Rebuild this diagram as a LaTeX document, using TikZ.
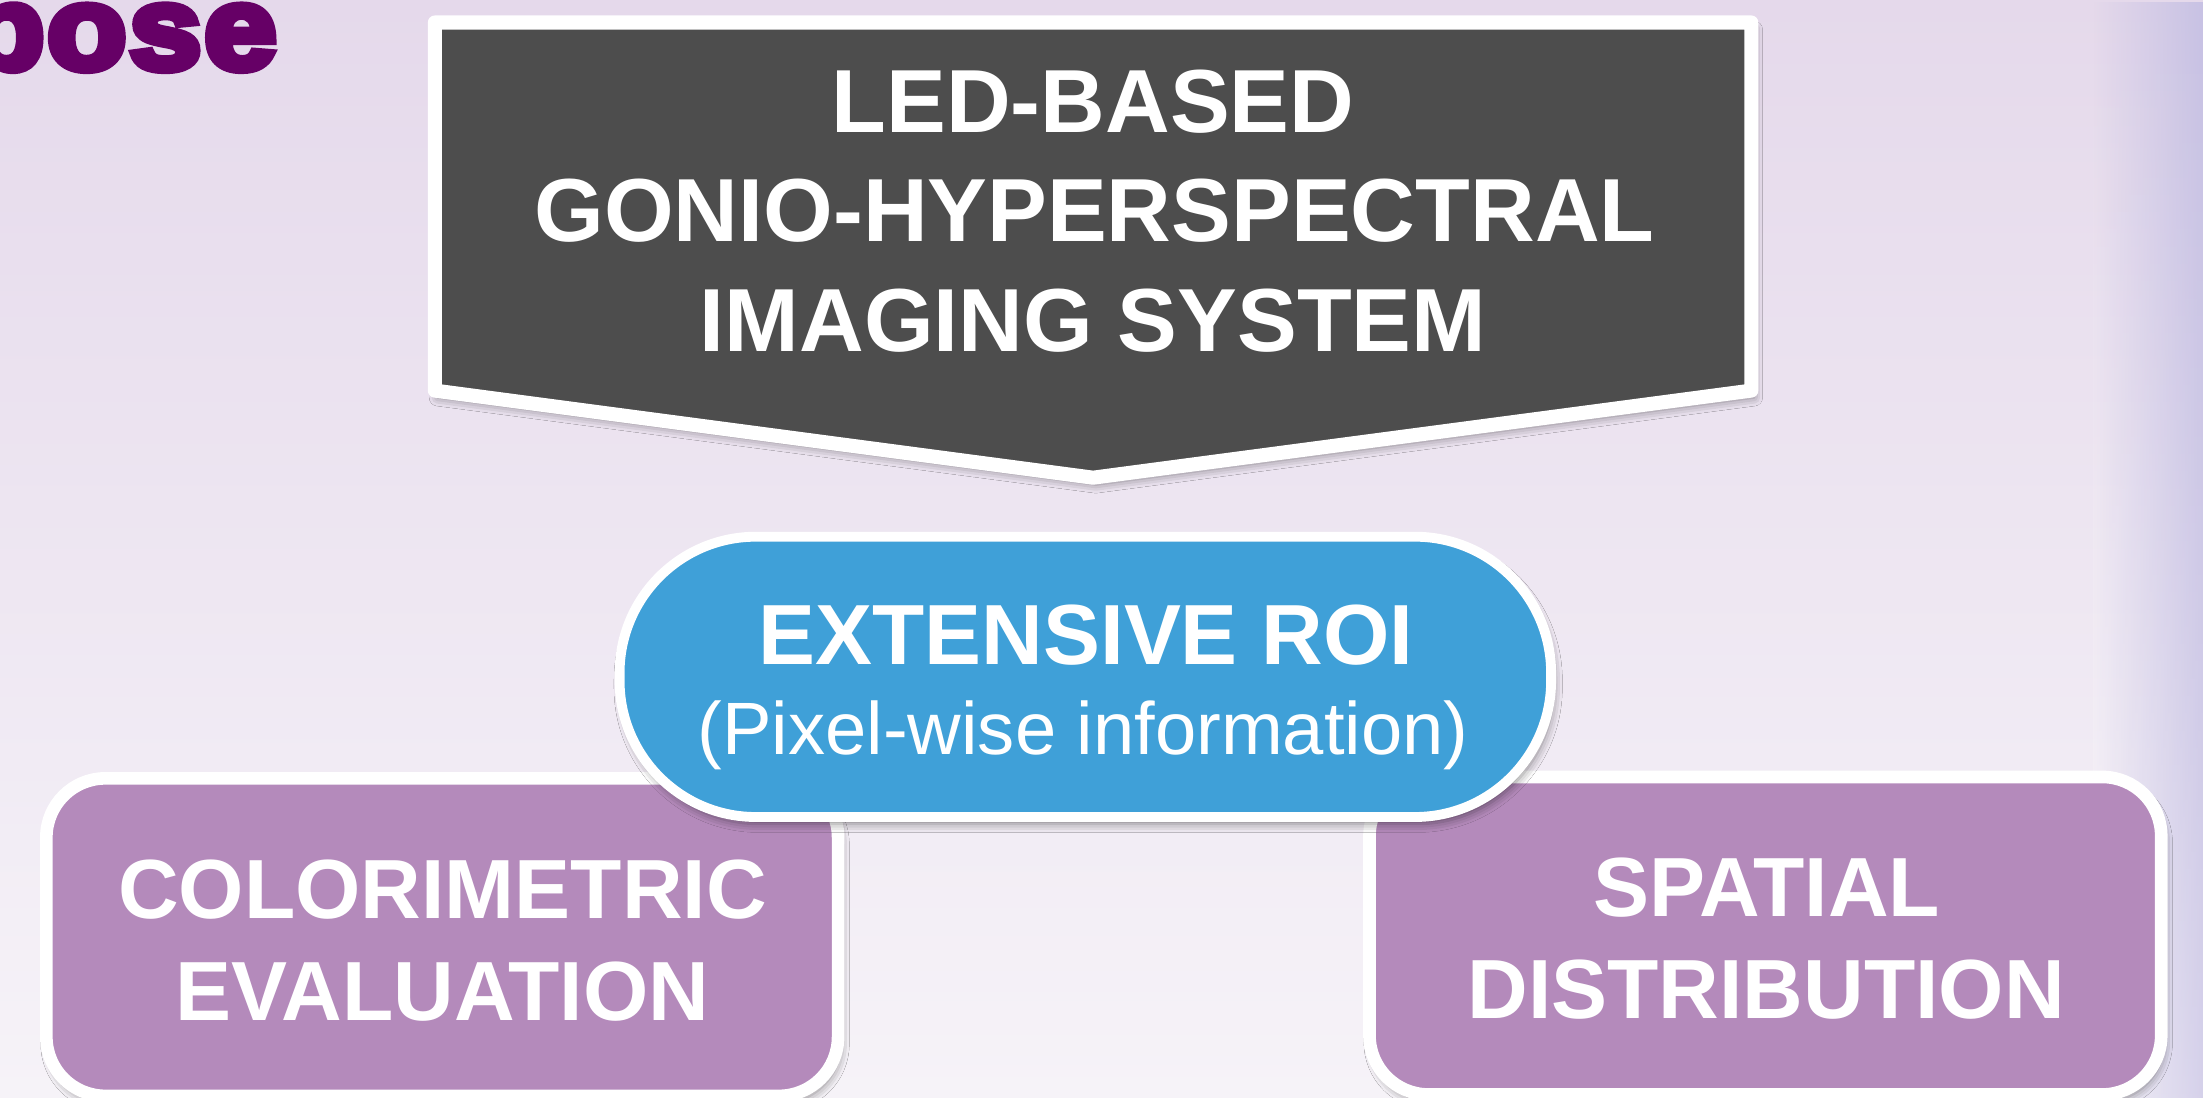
\documentclass[tikz,border=0pt]{standalone}
\usepackage{fontspec}
\setmainfont{Liberation Sans}
\newfontfamily\heavyfont{Liberation Sans Bold}[FakeBold=7]
\usetikzlibrary{shadows.blur,fadings}
\definecolor{bgTop}{RGB}{229,217,235}
\definecolor{bgBot}{RGB}{246,243,248}
\definecolor{darkgrey}{RGB}{77,77,77}
\definecolor{roiblue}{RGB}{63,160,216}
\definecolor{lilac}{RGB}{180,138,187}
\definecolor{plum}{RGB}{102,0,102}
\definecolor{edgelav}{RGB}{200,194,228}
\begin{document}
\begin{tikzpicture}[x=1bp,y=-1bp,
  softshadow/.style={blur shadow={shadow xshift=2bp,shadow yshift=-5bp,shadow blur radius=6bp,shadow opacity=45}},
  bigtxt/.style={text=white,inner sep=0,anchor=base,font={\fontsize{64}{78}\selectfont\bfseries}},
  roitxt/.style={text=white,inner sep=0,anchor=base,font={\fontsize{61}{72}\selectfont\bfseries}},
  subtxt/.style={text=white,inner sep=0,anchor=base,font={\fontsize{53}{64}\selectfont}},
  boxtxt/.style={text=white,inner sep=0,anchor=base,font={\fontsize{60}{72}\selectfont\bfseries}},
  lilacbox/.style={draw=white,line width=9bp,fill=lilac,rounded corners=42bp,minimum width=563.5bp,minimum height=226bp,inner sep=0,softshadow}]
\useasboundingbox (0,0) rectangle (1568,781);
\clip (0,0) rectangle (1568,781);
% background
\fill[top color=bgTop,bottom color=bgBot] (0,0) rectangle (1568,781);
\fill[edgelav,path fading=west] (1490,0) rectangle (1568,781);
\fill[white,opacity=0.25,path fading=north] (1490,0) rectangle (1568,781);
% title fragment
\node[inner sep=0,anchor=base east,text=plum,xscale=1.1,transform shape,font={\fontsize{84}{84}\heavyfont}] (title) at (197,49) {p\kern2bp o\kern2bp s\kern2bp e};
% pentagon arrow
\draw[draw=white,fill=darkgrey,line width=10bp,line join=round,softshadow]
  (309.5,16) -- (1246.5,16) -- (1246.5,278) -- (778,340) -- (309.5,278) -- cycle;
\node[bigtxt] (sysA) at (778,94) {LED-BASED};
\node[bigtxt] (sysB) at (779,172) {GONIO-HYPERSPECTRAL};
\node[bigtxt] (sysC) at (778,250) {IMAGING SYSTEM};
% purple boxes
\node[lilacbox] (colbox) at (314.75,667) {};
\node[lilacbox] (spabox) at (1256.5,666) {};
\node[boxtxt] (colA) at (315,654) {COLORIMETRIC};
\node[boxtxt] (colB) at (315,726) {EVALUATION};
\node[boxtxt] (spaA) at (1257.5,652) {SPATIAL};
\node[boxtxt] (spaB) at (1257,725) {DISTRIBUTION};
% blue node
\node[draw=white,line width=7bp,fill=roiblue,rounded corners=97bp,minimum width=663bp,minimum height=199.5bp,inner sep=0,softshadow] (roi) at (772.5,481.75) {};
\node[roitxt] (roiA) at (773,473) {EXTENSIVE ROI};
\node[subtxt] (roiB) at (771,537) {(Pixel-wise information)};
\end{tikzpicture}
\end{document}
